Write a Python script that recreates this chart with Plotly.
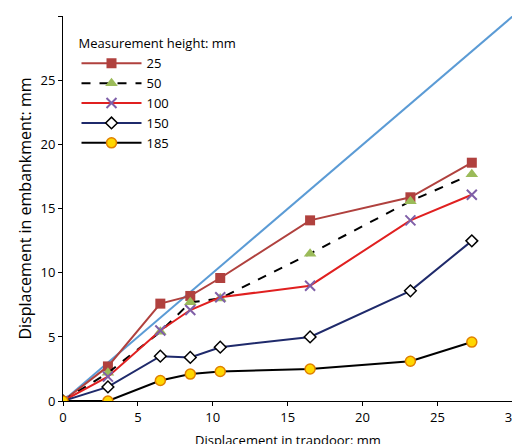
import plotly.graph_objects as go

x = [0, 3, 6.5, 8.5, 10.5, 16.5, 23.2, 27.3]
y25 = [0, 2.7, 7.6, 8.2, 9.6, 14.1, 15.9, 18.6]
y50 = [0, 2.2, 5.4, 7.7, 8.0, 11.5, 15.6, 17.7]
y100 = [0, 1.9, 5.5, 7.1, 8.1, 9.0, 14.1, 16.1]
y150 = [0, 1.1, 3.5, 3.4, 4.2, 5.0, 8.6, 12.5]
y185 = [0, 0, 1.6, 2.1, 2.3, 2.5, 3.1, 4.6]
ref_x = [0, 30]
ref_y = [0, 30]

fig = go.Figure()
fig.add_trace(go.Scatter(x=ref_x, y=ref_y, mode="lines", line=dict(color="#5B9BD5", width=2), showlegend=False))
fig.add_trace(go.Scatter(x=x, y=y25, name="25", mode="lines+markers",
    line=dict(color="#B0413E", width=2), marker=dict(symbol="square", size=10, color="#B0413E")))
fig.add_trace(go.Scatter(x=x, y=y50, name="50", mode="lines+markers",
    line=dict(color="black", width=2, dash="dash"), marker=dict(symbol="triangle-up", size=11, color="#9BBB59")))
fig.add_trace(go.Scatter(x=x, y=y100, name="100", mode="lines+markers",
    line=dict(color="#E02020", width=2), marker=dict(symbol="x-thin", size=10, line=dict(color="#7F5FA8", width=2))))
fig.add_trace(go.Scatter(x=x, y=y150, name="150", mode="lines+markers",
    line=dict(color="#1F2A6B", width=2), marker=dict(symbol="diamond", size=9, color="white", line=dict(color="black", width=1.5))))
fig.add_trace(go.Scatter(x=x, y=y185, name="185", mode="lines+markers",
    line=dict(color="black", width=2), marker=dict(symbol="circle", size=10, color="#FFD700", line=dict(color="#E08000", width=1.5))))

ax = dict(range=[0, 30.05], tickvals=[0, 5, 10, 15, 20, 25, 30], showgrid=False, zeroline=False, showline=True,
          linecolor="black", ticks="outside", ticklen=4, tickcolor="black", tickfont=dict(size=13))
fig.update_layout(
    width=520, height=444, plot_bgcolor="white", paper_bgcolor="white",
    font=dict(family="Open Sans", color="black", size=13),
    margin=dict(l=55, r=8, t=8, b=51),
    xaxis=dict(**ax),
    yaxis=dict(**ax, title=dict(text="Displacement in embankment: mm", standoff=4)),
    legend=dict(x=0.03, y=0.96, title=dict(text="Measurement height: mm", font=dict(size=13)),
                font=dict(size=13), bgcolor="rgba(0,0,0,0)", tracegroupgap=4, itemwidth=60),
    annotations=[dict(text="Displacement in trapdoor: mm", xref="paper", yref="paper", x=0.5, y=0,
                      yshift=-28, showarrow=False, font=dict(size=13), yanchor="top")],
)
fig.write_html("out.html")
